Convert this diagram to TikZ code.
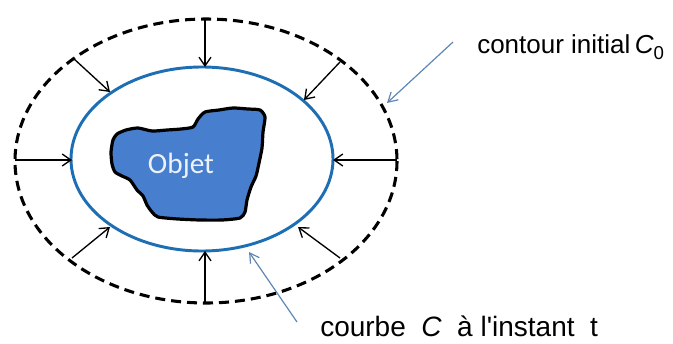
\documentclass[tikz,border=0pt]{standalone}
\usepackage{fontspec}
\setmainfont{Liberation Sans}
\newfontfamily\objfont{Carlito}
\usetikzlibrary{arrows.meta}
\definecolor{ringblue}{RGB}{30,110,180}
\definecolor{blobblue}{RGB}{72,126,206}
\definecolor{pointerblue}{RGB}{95,135,180}
\definecolor{objtext}{RGB}{236,242,250}
\tikzset{
  initcontour/.style={draw=black, line width=2.3pt, dash pattern=on 7.5pt off 4.5pt},
  curvet/.style={draw=ringblue, line width=2.2pt},
  objectshape/.style={draw=black, line width=2.4pt, fill=blobblue, line join=round},
  pushdir/.style={draw=black, line width=1pt, -{Straight Barb[length=6.5pt,width=9pt,line width=1pt]}},
  pointer/.style={draw=pointerblue, line width=0.9pt, -{Straight Barb[length=7pt,width=8pt,line width=0.9pt]}},
  lbl/.style={inner sep=0pt},
}
\begin{document}
\begin{tikzpicture}[x=0.75pt, y=-0.75pt]
\useasboundingbox (0,0) rectangle (673,343);
\fill[white] (0,0) rectangle (673,343);

% initial contour C0 and current curve C
\draw[initcontour] (206,161) ellipse [x radius=191, y radius=142];
\draw[curvet] (202,159) ellipse [x radius=131, y radius=92];

% object to be segmented
\draw[objectshape] plot[smooth cycle, tension=0.4] coordinates {
  (113,140) (117,134) (126,130) (138,128) (152,131) (167,130) (181,129) (193,127)
  (198,119) (205,112) (219,110) (233,108) (248,109) (260,110) (265,117)
  (263,132) (262,148) (259,163) (256,176) (251,187) (247,200) (245,212) (240,218)
  (222,220) (200,220) (178,219) (158,217) (152,212) (147,205) (143,196)
  (137,190) (130,180) (122,176) (115,172) (112,164) (111,152)};
\node[font=\objfont\fontsize{22}{24}\selectfont, text=objtext] (obj) at (181,166) {Objet};

% points on C0 and on C
\coordinate (o1) at (205,19);   \coordinate (i1) at (205,67);
\coordinate (o2) at (340,62);   \coordinate (i2) at (304,100);
\coordinate (o3) at (397,160);  \coordinate (i3) at (333,160);
\coordinate (o4) at (340,258);  \coordinate (i4) at (298,227);
\coordinate (o5) at (205,303);  \coordinate (i5) at (205,251);
\coordinate (o6) at (72,258);   \coordinate (i6) at (110,227);
\coordinate (o7) at (15,160);   \coordinate (i7) at (72,160);
\coordinate (o8) at (73,58);    \coordinate (i8) at (110,92);

% inward motion of the contour
\foreach \k in {1,...,8} \draw[pushdir] (o\k) -- (i\k);

% labels
\node[lbl, anchor=base west, font=\fontsize{19.5}{22}\selectfont] (lc0) at (477,53)
  {contour initial\,{\itshape C}\raisebox{-0.45ex}{\fontsize{14}{15}\selectfont 0}};
\node[lbl, anchor=base west, font=\fontsize{21}{24}\selectfont] (lct) at (320,336)
  {courbe\ \ {\itshape C}\ \ à l\textquotesingle instant\ \ t};

\coordinate (p1s) at (453,42);  \coordinate (p1e) at (387,103);
\coordinate (p2s) at (297,322); \coordinate (p2e) at (249,252);
\draw[pointer] (p1s) -- (p1e);
\draw[pointer] (p2s) -- (p2e);
\end{tikzpicture}
\end{document}
